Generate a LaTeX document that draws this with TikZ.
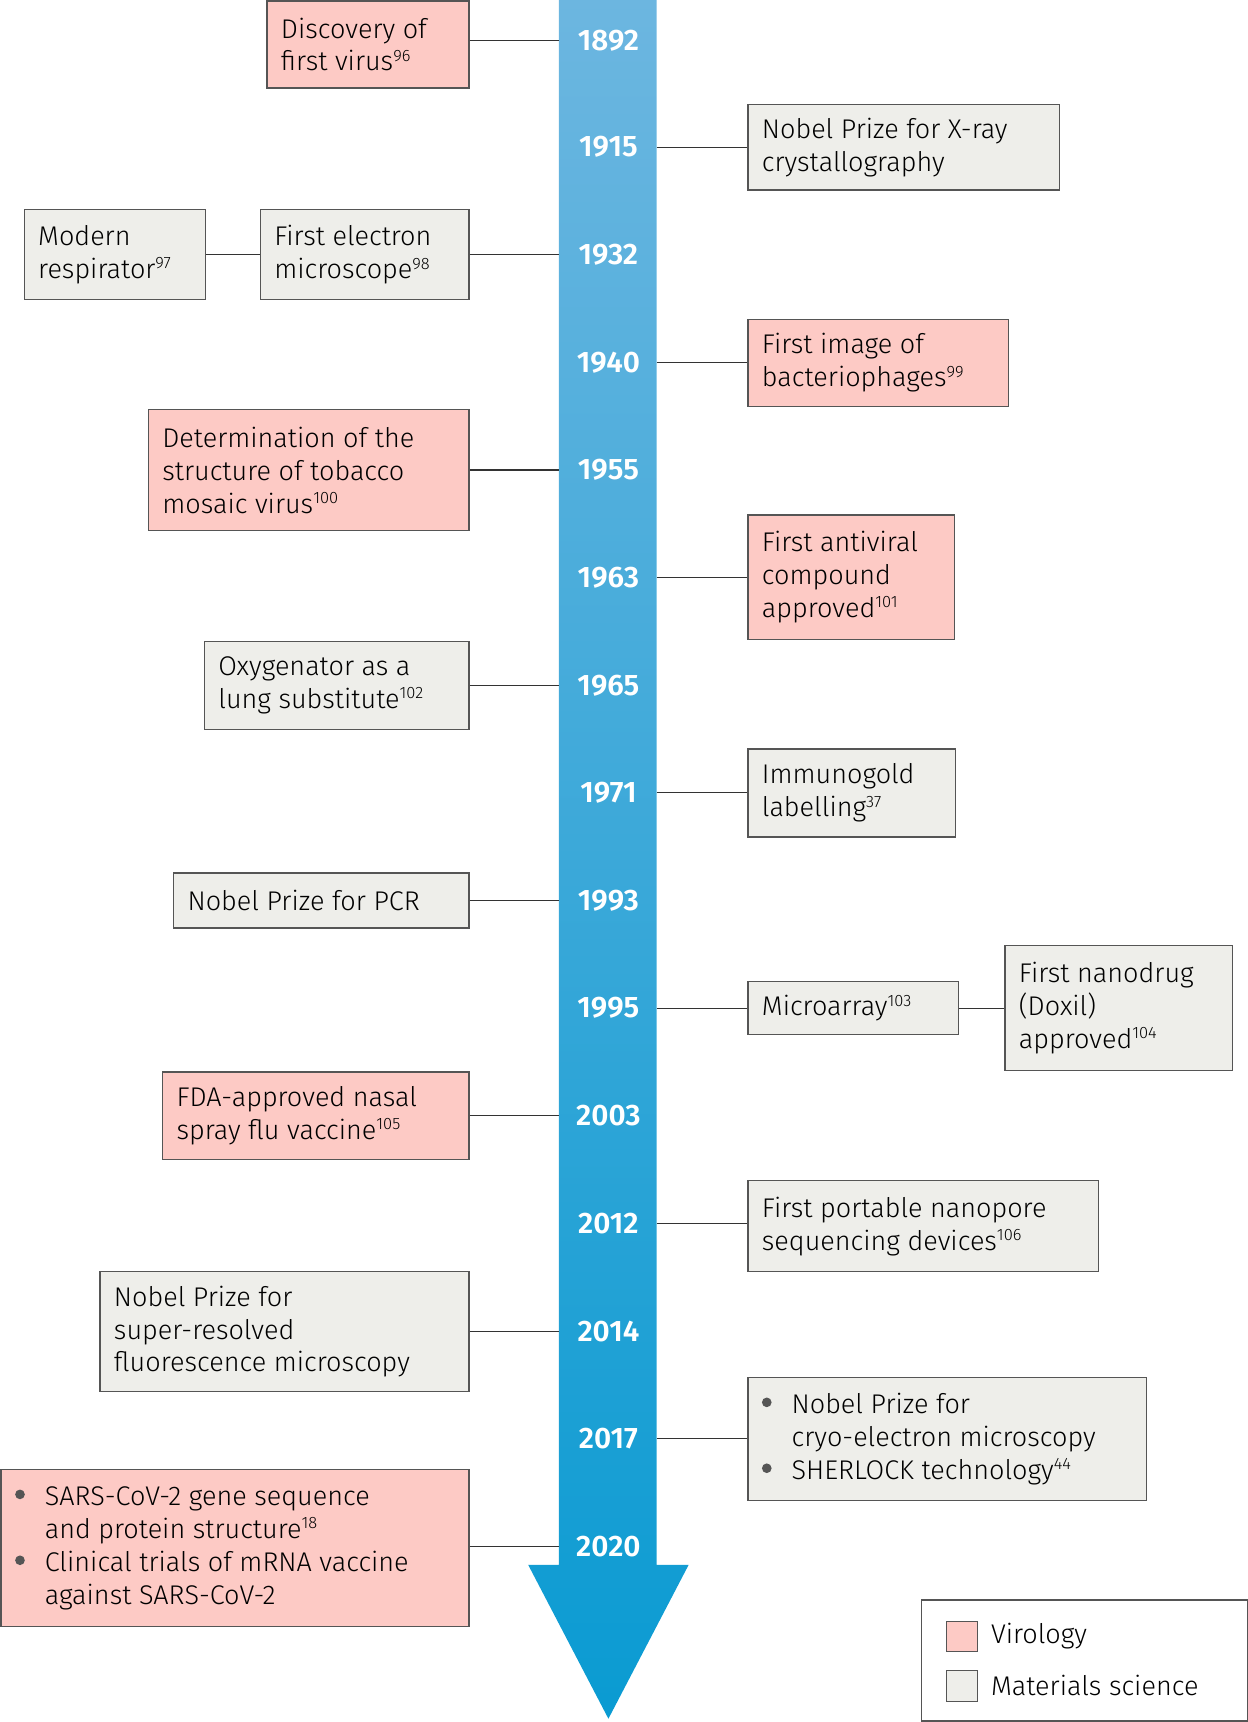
\documentclass[tikz,border=0pt]{standalone}
\usepackage{fontspec}
\setmainfont{Fira Sans}[UprightFont=* Light,BoldFont=* SemiBold]
\definecolor{vir}{HTML}{FDCAC5}
\definecolor{mat}{HTML}{EEEEEA}
\definecolor{bd}{HTML}{555555}
\definecolor{ln}{HTML}{333333}
\definecolor{atop}{HTML}{6CB6E0}
\definecolor{abot}{HTML}{0A9BD2}
\newcommand{\sref}[1]{\textsuperscript{\fontsize{7.5}{8}\selectfont #1}}
\newcommand{\bul}{\makebox[1.1em][l]{\raisebox{0.22em}{\tikz\fill[bd] (0,0) circle (2.2pt);}}}
\newcommand{\ind}{\hspace*{1.1em}}
\newcommand{\bx}[7]{%
 \pgfmathsetmacro{\w}{(#4-#2)*0.5}\pgfmathsetmacro{\h}{(#5-#3)*0.5}%
 \node[boxst,fill=#6,minimum width=\w pt,minimum height=\h pt] (#1) at ({(#2+#4)/2},{(#3+#5)/2}) {};
 \node[txt] (#1t) at ($(#1.west)+(13,0)$) {#7};}
\usetikzlibrary{calc}
\tikzset{boxst/.style={draw=bd,line width=0.6pt,inner sep=0pt},
 txt/.style={anchor=west,align=left,inner sep=0pt,font=\fontsize{12.3}{15}\selectfont,text=black},
 conn/.style={draw=ln,line width=0.5pt},
 yr/.style={text=white,font=\bfseries\fontsize{13.5}{15}\selectfont}}
\begin{document}
\begin{tikzpicture}[x=0.5pt,y=-0.5pt]
\useasboundingbox (0,0) rectangle (1136,1568);
\shade[top color=atop, bottom color=abot]
 (509,0) -- (598,0) -- (598,1425) -- (627,1425) -- (554,1565) -- (481,1425) -- (509,1425) -- cycle;
\foreach \yy/\yv in {1892/37,1915/134,1932/232,1940/330,1955/428,1963/526,1965/624,1971/722,1993/820,1995/918,2003/1016,2012/1114,2014/1212,2017/1310,2020/1408}{
 \node[yr] (y\yy) at (554,\yv) {\yy};
 \coordinate (L\yy) at (509,\yv); \coordinate (R\yy) at (598,\yv);}
\bx{a}{243}{1}{427}{80}{vir}{Discovery of\\first virus\sref{96}}
\bx{b}{681}{95}{965}{173}{mat}{Nobel Prize for X-ray\\crystallography}
\bx{c1}{22}{191}{187}{273}{mat}{Modern\\respirator\sref{97}}
\bx{c}{237}{191}{427}{273}{mat}{First electron\\microscope\sref{98}}
\bx{d}{681}{291}{918}{370}{vir}{First image of\\bacteriophages\sref{99}}
\bx{e}{135}{373}{427}{483}{vir}{Determination of the\\structure of tobacco\\mosaic virus\sref{100}}
\bx{f}{681}{469}{869}{582}{vir}{First antiviral\\compound\\approved\sref{101}}
\bx{g}{186}{584}{427}{664}{mat}{Oxygenator as a\\lung substitute\sref{102}}
\bx{h}{681}{682}{870}{762}{mat}{Immunogold\\labelling\sref{37}}
\bx{i}{158}{795}{427}{845}{mat}{Nobel Prize for PCR}
\bx{j}{681}{894}{873}{942}{mat}{Microarray\sref{103}}
\bx{j2}{915}{861}{1122}{975}{mat}{First nanodrug\\(Doxil)\\approved\sref{104}}
\bx{k}{148}{976}{427}{1056}{vir}{FDA-approved nasal\\spray flu vaccine\sref{105}}
\bx{l}{681}{1075}{1000}{1158}{mat}{First portable nanopore\\sequencing devices\sref{106}}
\bx{m}{91}{1158}{427}{1267}{mat}{Nobel Prize for\\super-resolved\\fluorescence microscopy}
\bx{n}{681}{1254}{1044}{1366}{mat}{\bul Nobel Prize for\\\ind cryo-electron microscopy\\\bul SHERLOCK technology\sref{44}}
\bx{o}{1}{1338}{427}{1481}{vir}{\bul SARS-CoV-2 gene sequence\\\ind and protein structure\sref{18}\\\bul Clinical trials of mRNA vaccine\\\ind against SARS-CoV-2}
\draw[conn] (a.east|-L1892) -- (L1892);
\draw[conn] (R1915) -- (b.west|-R1915);
\draw[conn] (c1.east|-L1932) -- (c.west|-L1932);
\draw[conn] (c.east|-L1932) -- (L1932);
\draw[conn] (R1940) -- (d.west|-R1940);
\draw[conn] (e.east|-L1955) -- (L1955);
\draw[conn] (R1963) -- (f.west|-R1963);
\draw[conn] (g.east|-L1965) -- (L1965);
\draw[conn] (R1971) -- (h.west|-R1971);
\draw[conn] (i.east|-L1993) -- (L1993);
\draw[conn] (R1995) -- (j.west|-R1995);
\draw[conn] (j.east|-R1995) -- (j2.west|-R1995);
\draw[conn] (k.east|-L2003) -- (L2003);
\draw[conn] (R2012) -- (l.west|-R2012);
\draw[conn] (m.east|-L2014) -- (L2014);
\draw[conn] (R2017) -- (n.west|-R2017);
\draw[conn] (o.east|-L2020) -- (L2020);
% legend
\node[draw=bd,line width=0.6pt,minimum width=148.5pt,minimum height=55pt,inner sep=0pt] (leg) at (987.5,1512) {};
\node[draw=bd,fill=vir,minimum size=14pt,inner sep=0pt] (sv) at (876,1490) {};
\node[draw=bd,fill=mat,minimum size=14pt,inner sep=0pt] (sm) at (876,1535) {};
\node[txt] (tv) at (902,1490) {Virology};
\node[txt] (tm) at (902,1535) {Materials science};
\end{tikzpicture}
\end{document}
